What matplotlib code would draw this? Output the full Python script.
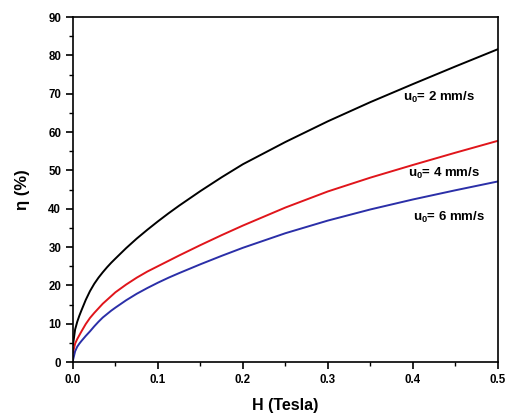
import matplotlib
matplotlib.use("Agg")
import matplotlib.pyplot as plt
from matplotlib.ticker import MultipleLocator

plt.rcParams['font.family'] = ['Liberation Sans', 'DejaVu Sans']
plt.rcParams['mathtext.fontset'] = 'custom'
plt.rcParams['mathtext.rm'] = 'Liberation Sans:bold'
plt.rcParams['mathtext.bf'] = 'Liberation Sans:bold'
plt.rcParams['mathtext.it'] = 'Liberation Sans:bold'
plt.rcParams['mathtext.default'] = 'bf'

H = [0, 0.0025, 0.005, 0.0075, 0.01, 0.015, 0.02, 0.025, 0.03, 0.035, 0.04, 0.045,
     0.05, 0.0625, 0.075, 0.0875, 0.1, 0.1125, 0.125, 0.15, 0.175, 0.2, 0.25,
     0.3, 0.35, 0.4, 0.45, 0.5]
eta_2 = [4.5, 8.5, 10.5, 12.1, 13.5, 16.2, 18.5, 20.4, 22.0, 23.4, 24.7, 25.9,
         27.0, 29.7, 32.2, 34.5, 36.7, 38.8, 40.8, 44.6, 48.2, 51.6, 57.4,
         62.8, 67.8, 72.5, 77.1, 81.6]
eta_4 = [2.5, 4.8, 6.0, 7.0, 8.0, 9.9, 11.5, 12.8, 14.0, 15.2, 16.2, 17.2,
         18.2, 20.2, 22.0, 23.6, 25.0, 26.4, 27.8, 30.5, 33.1, 35.6, 40.3,
         44.5, 48.1, 51.4, 54.6, 57.7]
eta_6 = [0.5, 2.8, 4.0, 4.8, 5.5, 6.8, 8.0, 9.3, 10.5, 11.6, 12.5, 13.4,
         14.2, 16.1, 17.8, 19.3, 20.7, 22.0, 23.2, 25.5, 27.7, 29.8, 33.6,
         36.9, 39.8, 42.4, 44.8, 47.1]

labels = ["u$_0$= 2 mm/s", "u$_0$= 4 mm/s", "u$_0$= 6 mm/s"]
label_pos = [(0.388, 68.9), (0.394, 49.3), (0.400, 37.8)]
colors = ["#000000", "#e0151b", "#2b2fa8"]

fig = plt.figure(figsize=(5.08, 4.16), dpi=100)
ax = fig.add_axes([0.1437, 0.1298, 0.8363, 0.8293])

for y, c in zip([eta_2, eta_4, eta_6], colors):
    ax.plot(H, y, color=c, lw=1.4)

for t, (x, y) in zip(labels, label_pos):
    ax.text(x, y, t, fontsize=9.5, fontweight='bold', va='center', ha='left')

ax.set_xlim(0, 0.5)
ax.set_ylim(0, 90)
ax.xaxis.set_major_locator(MultipleLocator(0.1))
ax.xaxis.set_minor_locator(MultipleLocator(0.05))
ax.yaxis.set_major_locator(MultipleLocator(10))
ax.yaxis.set_minor_locator(MultipleLocator(5))
ax.tick_params(which='major', direction='out', length=5, width=1.2, labelsize=8.3)
ax.tick_params(which='minor', direction='out', length=3, width=1.0)
for lab in ax.get_xticklabels() + ax.get_yticklabels():
    lab.set_fontweight('bold')
for s in ax.spines.values():
    s.set_linewidth(1.2)

ax.set_xlabel("H (Tesla)", fontsize=11.5, fontweight='bold', labelpad=9)
ax.set_ylabel("η (%)", fontsize=12, fontweight='bold', labelpad=13)

fig.savefig("out.png", dpi=100)
